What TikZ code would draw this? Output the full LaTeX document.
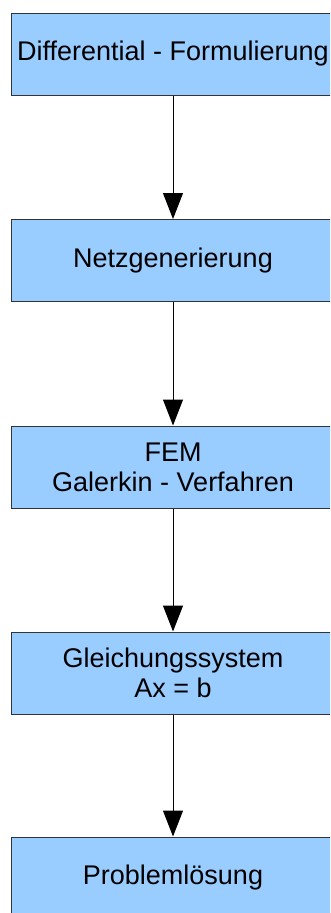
\documentclass[tikz,border=0pt]{standalone}
\usepackage{fontspec}
\setmainfont{Liberation Sans}
\usetikzlibrary{arrows.meta}
\definecolor{boxfill}{HTML}{99CCFF}
\definecolor{boxline}{HTML}{333333}
\begin{document}
\begin{tikzpicture}[x=1pt,y=-1pt,
  stepbox/.style={draw=boxline, line width=1pt, fill=boxfill, rectangle,
    minimum width=324pt, minimum height=82pt, inner sep=0pt, align=center,
    font=\fontsize{27}{30}\selectfont},
  conn/.style={line width=1pt, draw=black, -{Triangle[width=20pt,length=26pt]}}]
\useasboundingbox (0,0) rectangle (330,913);
\clip (0,0) rectangle (330,913);
\node[stepbox] (a) at (173,54) {Differential - Formulierung};
\node[stepbox] (b) at (173,260.5) {Netzgenerierung};
\node[stepbox] (c) at (173,467) {FEM\\Galerkin - Verfahren};
\node[stepbox] (d) at (173,673) {Gleichungssystem\\Ax = b};
\node[stepbox] (e) at (173,878) {Problemlösung};
\draw[conn] (a) -- (b);
\draw[conn] (b) -- (c);
\draw[conn] (c) -- (d);
\draw[conn] (d) -- (e);
\end{tikzpicture}
\end{document}
